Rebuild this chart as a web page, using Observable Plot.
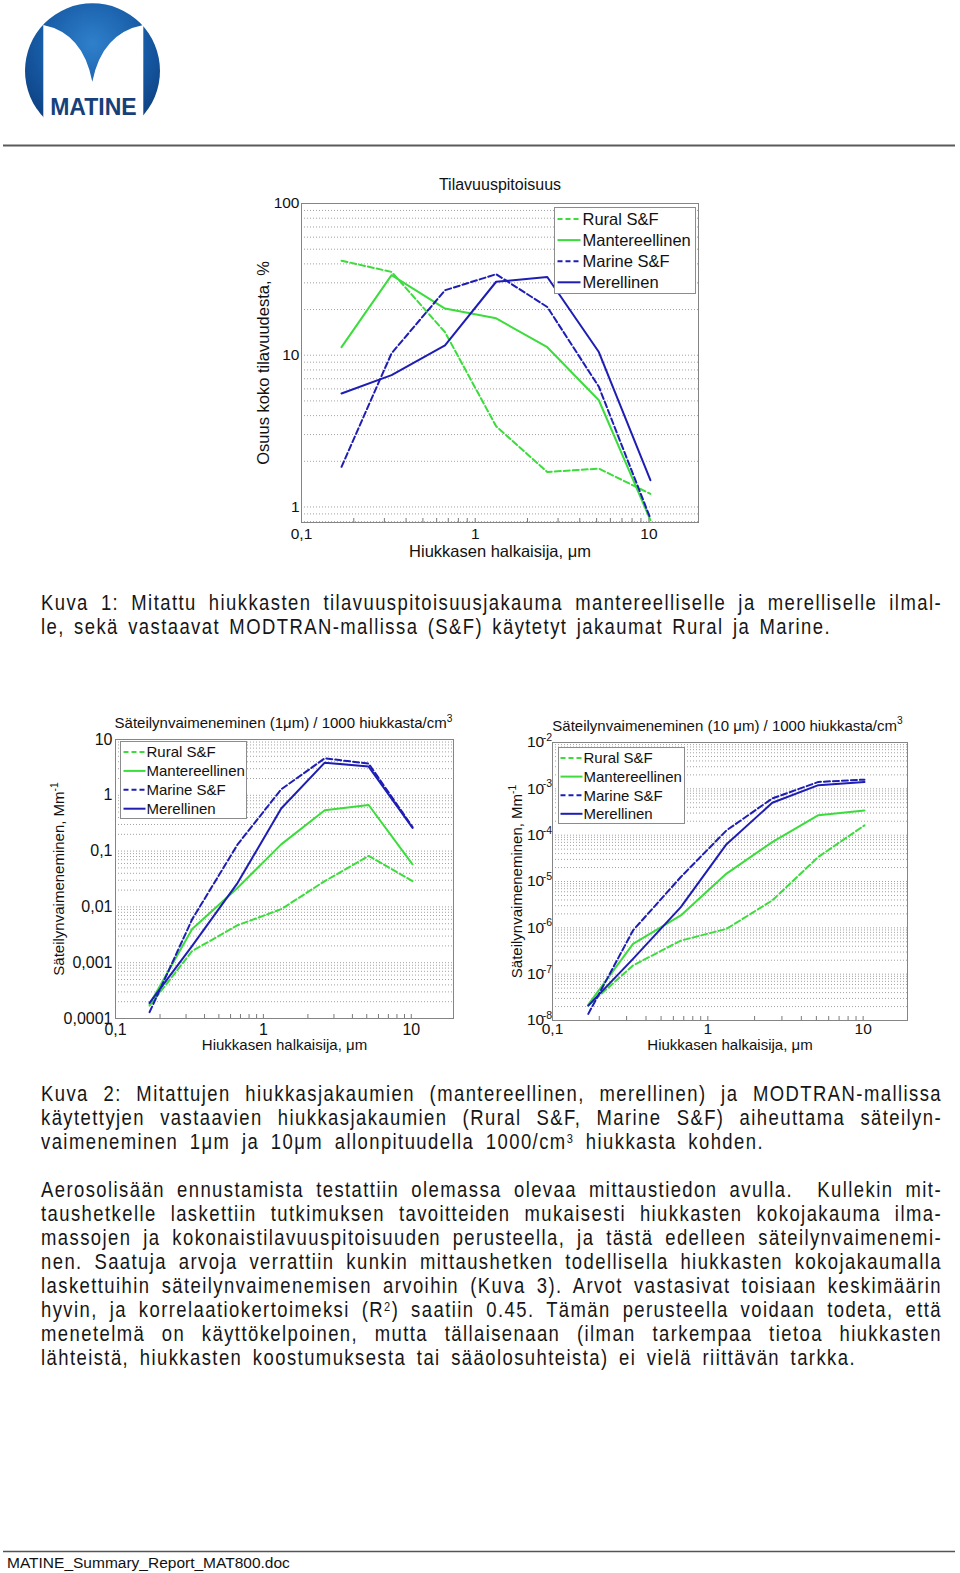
<!DOCTYPE html>
<html><head><meta charset="utf-8">
<script src="https://cdn.jsdelivr.net/npm/d3@7"></script>
<script src="https://cdn.jsdelivr.net/npm/@observablehq/plot@0.6"></script>
<style>
html,body{margin:0;padding:0;background:#fff;}
body{width:960px;height:1573px;position:relative;overflow:hidden;font-family:'Liberation Sans',Arial,sans-serif;}
.abs{position:absolute;}
</style></head><body>
<svg id="page" class="abs" style="left:0;top:0" width="960" height="1573"></svg>
<div id="c1" class="abs" style="left:240px;top:160px"></div>
<div id="c2" class="abs" style="left:40px;top:730px"></div>
<div id="c3" class="abs" style="left:495px;top:730px"></div>
<svg id="top" class="abs" style="left:0;top:0;pointer-events:none" width="960" height="1573"></svg>
<script>
// ---------------- DATA ----------------
const seriesNames = ["Rural S&F", "Mantereellinen", "Marine S&F", "Merellinen"];
const seriesColors = ["#3cdc3c", "#3cdc3c", "#1e1eb4", "#1e1eb4"];
const seriesDash = ["6,3", null, "6,3", null];
const diameters = [0.17, 0.33, 0.67, 1.32, 2.6, 5.15, 10.2];

// Kuva 1: volume fraction, %
const volRural  = [42, 35.4, 14.2, 3.4, 1.7, 1.79, 1.22];
const volMant   = [11.3, 33.7, 20.3, 17.5, 11.3, 5.05, 0.82];
const volMarine = [1.84, 10.3, 26.8, 34.2, 20.8, 6.2, 0.84];
const volMeri   = [5.6, 7.4, 11.6, 30.5, 32.8, 10.5, 1.5];

// Kuva 2a: extinction at 1 um, Mm^-1
const ext1Rural  = [1.7e-4, 1.62e-3, 4.7e-3, 9.1e-3, 0.029, 0.082, 0.029];
const ext1Mant   = [1.8e-4, 4.0e-3, 0.022, 0.132, 0.54, 0.67, 0.058];
const ext1Marine = [1.3e-4, 6.0e-3, 0.132, 1.28, 4.6, 3.7, 0.27];
const ext1Meri   = [1.9e-4, 2.0e-3, 0.027, 0.58, 3.85, 3.27, 0.26];

// Kuva 2b: extinction at 10 um, Mm^-1
const ext10Rural  = [2.1e-8, 1.54e-7, 5.3e-7, 9.5e-7, 3.9e-6, 3.4e-5, 1.63e-4];
const ext10Mant   = [2.2e-8, 4.5e-7, 1.85e-6, 1.48e-5, 7.1e-5, 2.7e-4, 3.4e-4];
const ext10Marine = [1.39e-8, 8.8e-7, 1.25e-5, 1.27e-4, 6.2e-4, 1.41e-3, 1.58e-3];
const ext10Meri   = [2.1e-8, 2.14e-7, 2.8e-6, 6.4e-5, 5.0e-4, 1.2e-3, 1.41e-3];

// tick values
const majorX  = [0.1, 1, 10];
const majorY1 = [1, 10, 100];
const majorY2 = [0.0001, 0.001, 0.01, 0.1, 1, 10];
const majorY3 = [1e-8, 1e-7, 1e-6, 1e-5, 1e-4, 1e-3, 1e-2];

// text
const title1 = "Tilavuuspitoisuus";
const title2 = "Säteilynvaimeneminen (1μm) / 1000 hiukkasta/cm^{3}";
const title3 = "Säteilynvaimeneminen (10 μm) / 1000 hiukkasta/cm^{3}";
const xLabel = "Hiukkasen halkaisija, μm";
const yLabel1 = "Osuus koko tilavuudesta, %";
const yLabel2 = "Säteilynvaimeneminen, Mm^{-1}";

const caption1 = [
  "Kuva 1: Mitattu hiukkasten tilavuuspitoisuusjakauma mantereelliselle ja merelliselle ilmal-",
  "le, sekä vastaavat MODTRAN-mallissa (S&F) käytetyt jakaumat Rural ja Marine."
];
const caption2 = [
  "Kuva 2: Mitattujen hiukkasjakaumien (mantereellinen, merellinen) ja MODTRAN-mallissa",
  "käytettyjen vastaavien hiukkasjakaumien (Rural S&F, Marine S&F) aiheuttama säteilyn-",
  "vaimeneminen 1μm ja 10μm allonpituudella 1000/cm^{3} hiukkasta kohden."
];
const bodyPara = [
  "Aerosolisään ennustamista testattiin olemassa olevaa mittaustiedon avulla.  Kullekin mit-",
  "taushetkelle laskettiin tutkimuksen tavoitteiden mukaisesti hiukkasten kokojakauma ilma-",
  "massojen ja kokonaistilavuuspitoisuuden perusteella, ja tästä edelleen säteilynvaimenemi-",
  "nen. Saatuja arvoja verrattiin kunkin mittaushetken todellisella hiukkasten kokojakaumalla",
  "laskettuihin säteilynvaimenemisen arvoihin (Kuva 3). Arvot vastasivat toisiaan keskimäärin",
  "hyvin, ja korrelaatiokertoimeksi (R^{2}) saatiin 0.45. Tämän perusteella voidaan todeta, että",
  "menetelmä on käyttökelpoinen, mutta tällaisenaan (ilman tarkempaa tietoa hiukkasten",
  "lähteistä, hiukkasten koostumuksesta tai sääolosuhteista) ei vielä riittävän tarkka."
];
const footerText = "MATINE_Summary_Report_MAT800.doc";
const logoText = "MATINE";

// ---------------- HELPERS ----------------
const FONT = "'Liberation Sans', Arial, Helvetica, sans-serif";
const NS = "http://www.w3.org/2000/svg";
function el(parent, tag, attrs = {}) {
  const e = document.createElementNS(NS, tag);
  for (const k in attrs) if (attrs[k] != null) e.setAttribute(k, attrs[k]);
  parent.appendChild(e);
  return e;
}
function addRich(textEl, str, fs, supDx = 0, rise = 0.42, supScale = 0.68) {
  const re = /\^\{([^}]*)\}/g;
  let last = 0, m, shifted = false;
  const sh = rise * fs;
  const plain = (s) => {
    const t = el(textEl, "tspan");
    if (shifted) { t.setAttribute("dy", sh); shifted = false; }
    t.textContent = s;
  };
  while ((m = re.exec(str))) {
    if (m.index > last) plain(str.slice(last, m.index));
    const s = el(textEl, "tspan", {dy: -sh, dx: supDx || null, "font-size": supScale * fs});
    s.textContent = m[1];
    shifted = true;
    last = re.lastIndex;
  }
  if (last < str.length) plain(str.slice(last));
}
function logGrid(lo, hi) {
  const out = [];
  for (let e = Math.floor(Math.log10(lo)); e <= Math.ceil(Math.log10(hi)); e++)
    for (let k = 1; k <= 9; k++) {
      const v = +(k * Math.pow(10, e)).toPrecision(6);
      if (v >= lo * 0.999 && v <= hi * 1.001) out.push(v);
    }
  return out;
}
const commaFmt = d => String(d).replace(".", ",");
const powFmt = d => "10^{" + Math.round(Math.log10(d)) + "}";

// ---------------- CHARTS ----------------
function makeChart(cfg) {
  const rows = [];
  cfg.series.forEach((vals, i) => vals.forEach((v, j) => rows.push({d: diameters[j], v, i})));
  const xDomain = [0.1, 19.3];
  const svg = Plot.plot({
    width: cfg.width, height: cfg.height,
    marginLeft: cfg.ml, marginRight: cfg.mr, marginTop: cfg.mt, marginBottom: cfg.mb,
    x: {type: "log", domain: xDomain},
    y: {type: "log", domain: cfg.yDomain},
    style: {fontFamily: FONT, color: "#111", background: "none", overflow: "visible"},
    marks: [
      Plot.gridY({ticks: logGrid(cfg.yDomain[0], cfg.yDomain[1]), stroke: "#a2a2a2", strokeOpacity: 1, strokeDasharray: "1,2"}),
      Plot.axisX({ticks: logGrid(0.1, 19.3), tickSize: -4, tickFormat: () => "", stroke: "#7a7a7a", label: null}),
      Plot.frame({stroke: "#858585"}),
      Plot.axisX({ticks: majorX, tickSize: 0, tickPadding: cfg.xPad, tickFormat: commaFmt, label: null, fontSize: cfg.tickFont}),
      Plot.axisY({ticks: cfg.yTicks, tickSize: 0, tickPadding: cfg.yPad, tickFormat: cfg.yFmt, label: null, fontSize: cfg.tickFont}),
      Plot.axisX({ticks: [], label: cfg.xLabel, labelAnchor: "center", labelOffset: cfg.xLabelOffset, labelArrow: "none", fontSize: cfg.labelFont}),
      Plot.axisY({ticks: [], label: cfg.yLabel, labelAnchor: "center", labelOffset: cfg.yLabelOffset, labelArrow: "none", fontSize: cfg.labelFont}),
      ...seriesNames.map((name, i) => Plot.line(rows.filter(r => r.i === i), {
        x: "d", y: "v", stroke: seriesColors[i], strokeDasharray: seriesDash[i] || undefined,
        strokeWidth: 2, clip: true
      }))
    ]
  });
  // superscripts in tick labels / axis labels
  svg.querySelectorAll("text").forEach(t => {
    const s = t.textContent;
    if (s.includes("^{")) {
      const g = t.closest("g");
      const fs = parseFloat(g && g.getAttribute("font-size")) || cfg.tickFont;
      const isTick = s.startsWith("10^");
      t.textContent = "";
      addRich(t, s, fs, isTick ? -1.5 : 0);
    }
  });
  document.getElementById(cfg.id).appendChild(svg);
}

makeChart({
  id: "c1", width: 470, height: 402, ml: 61, mr: 12, mt: 43, mb: 40,
  yDomain: [0.79, 100], yTicks: majorY1, yFmt: commaFmt,
  series: [volRural, volMant, volMarine, volMeri],
  xPad: 5, yPad: 2, tickFont: 15.5, labelFont: 16.5,
  xLabel: xLabel, yLabel: yLabel1, xLabelOffset: 34, yLabelOffset: 44
});
makeChart({
  id: "c2", width: 425, height: 335, ml: 75, mr: 12, mt: 9, mb: 47,
  yDomain: [1e-4, 10], yTicks: majorY2, yFmt: commaFmt,
  series: [ext1Rural, ext1Mant, ext1Marine, ext1Meri],
  xPad: 5, yPad: 3, tickFont: 16, labelFont: 15,
  xLabel: xLabel, yLabel: yLabel2, xLabelOffset: 31, yLabelOffset: 62
});
makeChart({
  id: "c3", width: 422, height: 335, ml: 57, mr: 10, mt: 12, mb: 45,
  yDomain: [1e-8, 1e-2], yTicks: majorY3, yFmt: powFmt,
  series: [ext10Rural, ext10Mant, ext10Marine, ext10Meri],
  xPad: 2.5, yPad: 0.5, tickFont: 15.5, labelFont: 15,
  xLabel: xLabel, yLabel: yLabel2, xLabelOffset: 29, yLabelOffset: 41
});

// ---------------- PAGE (logo, rules, body text) ----------------
const page = document.getElementById("page");
page.innerHTML = `
<defs>
  <radialGradient id="logoGrad" cx="0.5" cy="0.3" r="0.75">
    <stop offset="0" stop-color="#2f80cc"/>
    <stop offset="0.55" stop-color="#1659a3"/>
    <stop offset="1" stop-color="#0b3876"/>
  </radialGradient>
</defs>
<circle cx="92.5" cy="70.8" r="67.5" fill="url(#logoGrad)"/>
<path d="M43.3,25 Q83,33 92.3,81.7 Q102,33 143.3,25 L143.3,142 L43.3,142 Z" fill="#fff"/>
<line x1="3" x2="955" y1="145.5" y2="145.5" stroke="#5a5a5a" stroke-width="2"/>
<line x1="3" x2="955" y1="1551.5" y2="1551.5" stroke="#555" stroke-width="1.5"/>
`;
const lt = el(page, "text", {x: 93.4, y: 115, "text-anchor": "middle", "font-family": FONT, "font-weight": "bold", "font-size": 23, fill: "#17407a"});
lt.textContent = logoText;
const ft = el(page, "text", {x: 7, y: 1568, "font-family": FONT, "font-size": 15.5, fill: "#111"});
ft.textContent = footerText;

const SX = 0.84, FS = 22, LS = 1.7, LINE = 24.05, LEFT = 41, FULLW = 901;
function bodyBlock(lines, y0, lastWidth) {
  lines.forEach((str, k) => {
    const y = y0 + k * LINE;
    const t = el(page, "text", {transform: `translate(${LEFT},${y}) scale(${SX},1)`, "font-family": FONT,
      "font-size": FS, fill: "#161616", style: `white-space:pre;letter-spacing:${LS}px`});
    addRich(t, str, FS, 0, 0.3, 0.6);
    const w = t.getComputedTextLength();
    const target = (k === lines.length - 1 ? lastWidth : FULLW) / SX;
    const spaces = (str.match(/ /g) || []).length;
    if (spaces) t.style.wordSpacing = ((target - w) / spaces) + "px";
  });
}
bodyBlock(caption1, 610, 790);
bodyBlock(caption2, 1101, 723);
bodyBlock(bodyPara, 1197, 815);

// ---------------- TOP LAYER: titles, legends ----------------
const topL = document.getElementById("top");
function title(str, x, y, fs) {
  const t = el(topL, "text", {x, y, "text-anchor": "middle", "font-family": FONT, "font-size": fs, fill: "#111"});
  addRich(t, str, fs);
}
title(title1, 500, 190, 16);
title(title2, 283.5, 728, 15);
title(title3, 727.5, 730.5, 15);

function legend(b) {
  const g = el(topL, "g", {"font-family": FONT});
  el(g, "rect", {x: b.x, y: b.y, width: b.w, height: b.h, fill: "#fff", stroke: "#8c8c8c", "stroke-width": 1});
  seriesNames.forEach((name, i) => {
    const cy = b.y + b.first + i * b.step;
    el(g, "line", {x1: b.x + b.s1, x2: b.x + b.s2, y1: cy, y2: cy, stroke: seriesColors[i], "stroke-width": 2,
      "stroke-dasharray": seriesDash[i] ? "5,3" : null});
    const t = el(g, "text", {x: b.x + b.tx, y: cy, dy: "0.36em", "font-size": b.fs, fill: "#111"});
    t.textContent = name;
  });
}
legend({x: 554.5, y: 207.5, w: 141, h: 86, first: 11.5, step: 21.1, s1: 3, s2: 26, tx: 28, fs: 16.5});
legend({x: 120.5, y: 741.5, w: 126, h: 77, first: 10.5, step: 18.9, s1: 3, s2: 25, tx: 26, fs: 15});
legend({x: 558.5, y: 747.5, w: 126, h: 76, first: 10.5, step: 18.6, s1: 2, s2: 24, tx: 25, fs: 15});
</script>
</body></html>
